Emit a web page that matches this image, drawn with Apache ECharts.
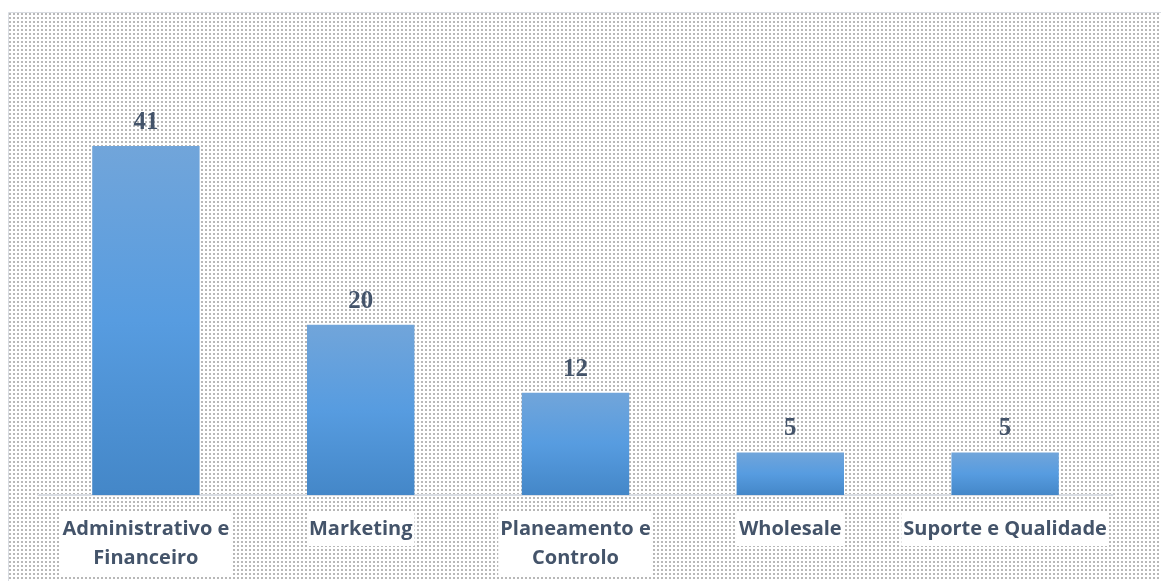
<!DOCTYPE html>
<html>
<head>
<meta charset="utf-8">
<style>
  html, body { margin: 0; padding: 0; background: #ffffff; }
  #chart { width: 1161px; height: 581px; }
</style>
<script src="https://cdn.jsdelivr.net/npm/echarts@6/dist/echarts.min.js"></script>
</head>
<body>
<div id="chart"></div>
<script>
// Departments and head counts
const categories = ['Administrativo e\nFinanceiro', 'Marketing', 'Planeamento e\nControlo', 'Wholesale', 'Suporte e Qualidade'];
const values = [41, 20, 12, 5, 5];

// Dotted fill for the chart area
function dotTile() {
  const c = document.createElement('canvas');
  c.width = 4; c.height = 4;
  const g = c.getContext('2d');
  g.fillStyle = '#ffffff';
  g.fillRect(0, 0, 4, 4);
  g.fillStyle = '#b8b8b8';
  g.fillRect(1, 1, 2, 2);
  return c;
}

const chart = echarts.init(document.getElementById('chart'), null, { renderer: 'canvas' });

chart.setOption({
  animation: false,
  backgroundColor: '#ffffff',
  graphic: [{
    type: 'rect',
    silent: true,
    z: -10,
    shape: { x: 8.5, y: 12.5, width: 1170, height: 580 },
    style: { fill: { image: dotTile(), repeat: 'repeat' }, stroke: '#d9dde3', lineWidth: 1 }
  }],
  grid: { left: 38.5, right: 48.5, top: 112, bottom: 86 },
  xAxis: {
    type: 'category',
    data: categories,
    axisLine: { lineStyle: { color: '#d9dde3', width: 2 } },
    axisTick: { show: false },
    axisLabel: {
      interval: 0,
      margin: 18,
      color: '#44546a',
      fontFamily: 'Open Sans',
      fontWeight: 'bold',
      fontSize: 20,
      lineHeight: 29,
      backgroundColor: '#ffffff',
      padding: [2, 2, 2, 2]
    }
  },
  yAxis: {
    type: 'value',
    min: 0,
    max: 45,
    show: false,
    splitLine: { show: false }
  },
  series: [{
    type: 'bar',
    data: values,
    barWidth: '50%',
    itemStyle: {
      color: {
        type: 'linear', x: 0, y: 0, x2: 0, y2: 1,
        colorStops: [
          { offset: 0, color: '#71a5da' },
          { offset: 0.5, color: '#579ce0' },
          { offset: 1, color: '#4487c8' }
        ]
      }
    },
    label: {
      show: true,
      position: 'top',
      distance: 11,
      color: '#44546a',
      fontFamily: 'Liberation Serif',
      fontWeight: 'bold',
      fontSize: 25
    }
  }]
});
</script>
</body>
</html>
